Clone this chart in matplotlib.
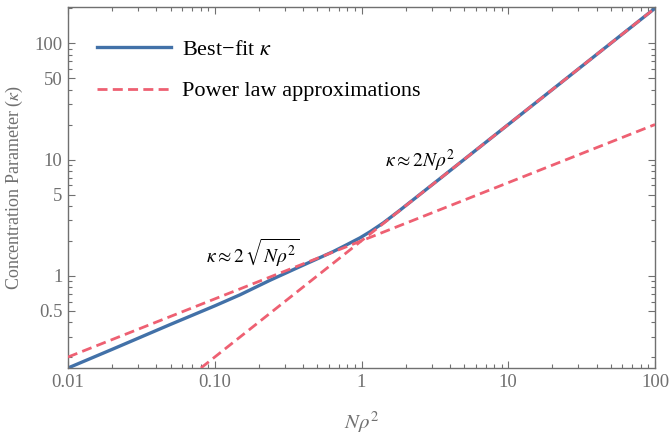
import matplotlib
matplotlib.use('Agg')
import matplotlib.pyplot as plt
from matplotlib.ticker import FixedLocator, FixedFormatter, LogLocator, NullFormatter

plt.rcParams['font.family'] = ['Liberation Serif', 'DejaVu Serif']
plt.rcParams['mathtext.fontset'] = 'stix'

# best-fit kappa
n_rho2 = [0.01, 0.02, 0.05, 0.10, 0.149, 0.238, 0.381, 0.50, 0.643, 0.80,
          0.977, 1.143, 1.408, 1.80, 2.376, 3.61, 5.48, 10.0, 30.0, 100.0]
kappa = [0.161, 0.233, 0.382, 0.551, 0.687, 0.915, 1.20, 1.40, 1.617, 1.86,
         2.12, 2.39, 2.85, 3.61, 4.76, 7.22, 10.96, 20.0, 60.0, 200.0]

# power law approximations (straight lines in log-log)
sqrt_x = [0.01, 100.0]
sqrt_y = [0.2, 20.0]
lin_x = [0.0805, 100.0]
lin_y = [0.161, 200.0]

xticks = [0.01, 0.1, 1, 10, 100]
xtick_labels = ['0.01', '0.10', '1', '10', '100']
yticks = [0.5, 1, 5, 10, 50, 100]
ytick_labels = ['0.5', '1', '5', '10', '50', '100']

blue = '#4271a8'
red = '#ee6072'
gray = '#707070'

fig = plt.figure(figsize=(6.69, 4.36), dpi=100)
ax = fig.add_axes([68/669, 1-368/436, (655-68)/669, (368-7)/436])

ax.plot(n_rho2, kappa, color=blue, lw=2.4, label='Best\u2212fit $\\kappa$', zorder=2)
ax.plot(sqrt_x, sqrt_y, color=red, lw=2.0, dashes=(3.6, 1.9),
        label='Power law approximations', zorder=3)
ax.plot(lin_x, lin_y, color=red, lw=2.0, dashes=(3.6, 1.9), zorder=3)

ax.set_xscale('log')
ax.set_yscale('log')
ax.set_xlim(0.01, 100)
ax.set_ylim(0.161, 205)

ax.xaxis.set_major_locator(FixedLocator(xticks))
ax.xaxis.set_major_formatter(FixedFormatter(xtick_labels))
ax.xaxis.set_minor_locator(LogLocator(base=10, subs=range(2, 10)))
ax.xaxis.set_minor_formatter(NullFormatter())
ax.yaxis.set_major_locator(FixedLocator(yticks))
ax.yaxis.set_major_formatter(FixedFormatter(ytick_labels))
ax.yaxis.set_minor_locator(LogLocator(base=10, subs=range(1, 10)))
ax.yaxis.set_minor_formatter(NullFormatter())

ax.tick_params(which='both', direction='in', top=True, right=True,
               color=gray, labelcolor=gray, labelsize=13.5, width=0.8)
ax.tick_params(which='major', length=5, pad=4)
ax.tick_params(which='minor', length=3)
for s in ax.spines.values():
    s.set_color(gray)
    s.set_linewidth(1.0)

ax.set_xlabel('$N\\rho^2$', color=gray, fontsize=15, labelpad=14)
ax.set_ylabel('Concentration Parameter ($\\kappa$)', color=gray, fontsize=13, labelpad=7)

ax.text(0.182, 1.285, '$\\kappa \\approx 2\\,\\sqrt{N\\rho^2}$', fontsize=14,
        ha='center', va='baseline')
ax.text(2.51, 8.67, '$\\kappa \\approx 2N\\rho^2$', fontsize=14,
        ha='center', va='baseline')

leg = ax.legend(loc='upper left', bbox_to_anchor=(0.015, 0.966), frameon=False,
                fontsize=16, handlelength=3.35, handletextpad=0.5, labelspacing=0.95)

fig.savefig('out.png', dpi=100)
